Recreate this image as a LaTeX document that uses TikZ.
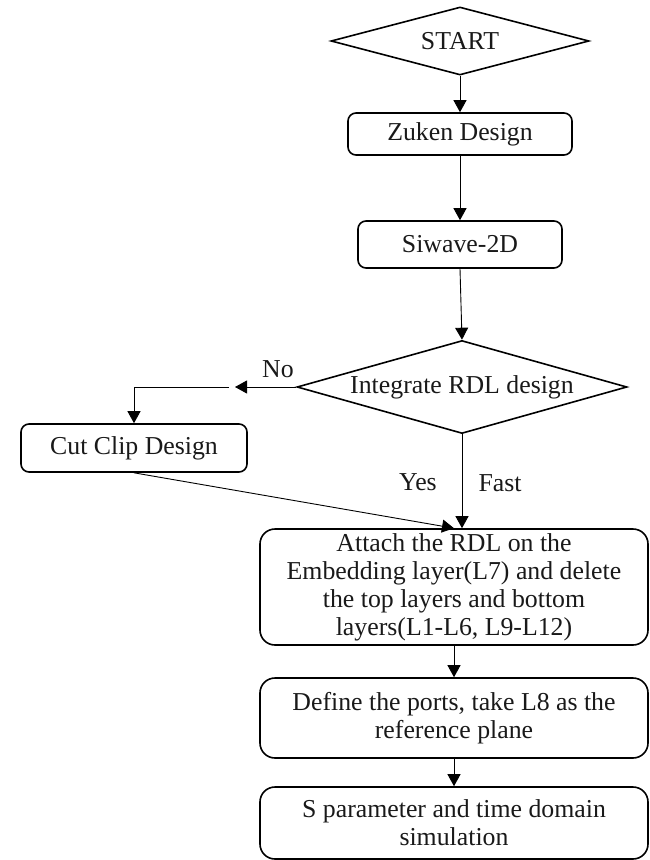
\documentclass[tikz,border=0pt]{standalone}
\usepackage{fontspec}
\setmainfont{Liberation Serif}
\usetikzlibrary{shapes.geometric,arrows.meta}
\begin{document}
\begin{tikzpicture}[x=1pt,y=-1pt,
  every node/.style={font=\fontsize{25.8}{28}\selectfont, text=black!90},
  box/.style={draw, line width=1.6pt, rounded corners=8pt, inner sep=0pt, align=center},
  bigbox/.style={box, rounded corners=15pt},
  decision/.style={draw, diamond, line width=1.6pt, inner sep=0pt, aspect=3.5},
  arr/.style={-{Triangle[length=12pt,width=13pt]}, line width=0.9pt},
  lbl/.style={inner sep=0pt}]
\useasboundingbox (0,0) rectangle (650,860);

% main flow
\node[decision, minimum width=258pt, minimum height=68pt] (start) at (460,41) {START};
\node[box, minimum width=224pt, minimum height=42pt] (zuken) at (460,134) {Zuken Design};
\node[box, minimum width=204pt, minimum height=47pt] (siwave) at (460,244.5) {Siwave-2D};
\node[decision, minimum width=330pt, minimum height=93pt] (rdl) at (462,387) {Integrate RDL design};
\node[box, minimum width=226pt, minimum height=48pt] (clip) at (134,448) {Cut Clip Design};
\node[bigbox, minimum width=388pt, minimum height=116pt] (attach) at (454,587)
  {Attach the RDL on the\\Embedding layer(L7) and delete\\the top layers and bottom\\layers(L1-L6, L9-L12)};
\node[bigbox, minimum width=388pt, minimum height=80pt] (define) at (454,718)
  {Define the ports, take L8 as the\\reference plane};
\node[bigbox, minimum width=388pt, minimum height=72pt] (sim) at (454,823)
  {S parameter and time domain\\simulation};

% branch labels
\node[lbl] (no) at (278,369) {No};
\node[lbl] (yes) at (418,482) {Yes};
\node[lbl] (fast) at (500,483) {Fast};

% free ends of the "No" branch
\coordinate (noend) at (235,387);
\coordinate (nostart) at (229,387);

% connectors
\draw[arr] (start.south) -- (zuken.north);
\draw[arr] (zuken.south) -- (siwave.north);
\draw[arr] (siwave.south) -- (rdl.north);
\draw[arr] (rdl.west) -- (noend);
\draw[arr] (nostart) -| (clip.north);
\draw[arr] (clip.south) -- (attach.north);
\draw[arr] (rdl.south) -- (rdl.south |- attach.north);
\draw[arr] (attach.south) -- (define.north);
\draw[arr] (define.south) -- (sim.north);
\end{tikzpicture}
\end{document}
